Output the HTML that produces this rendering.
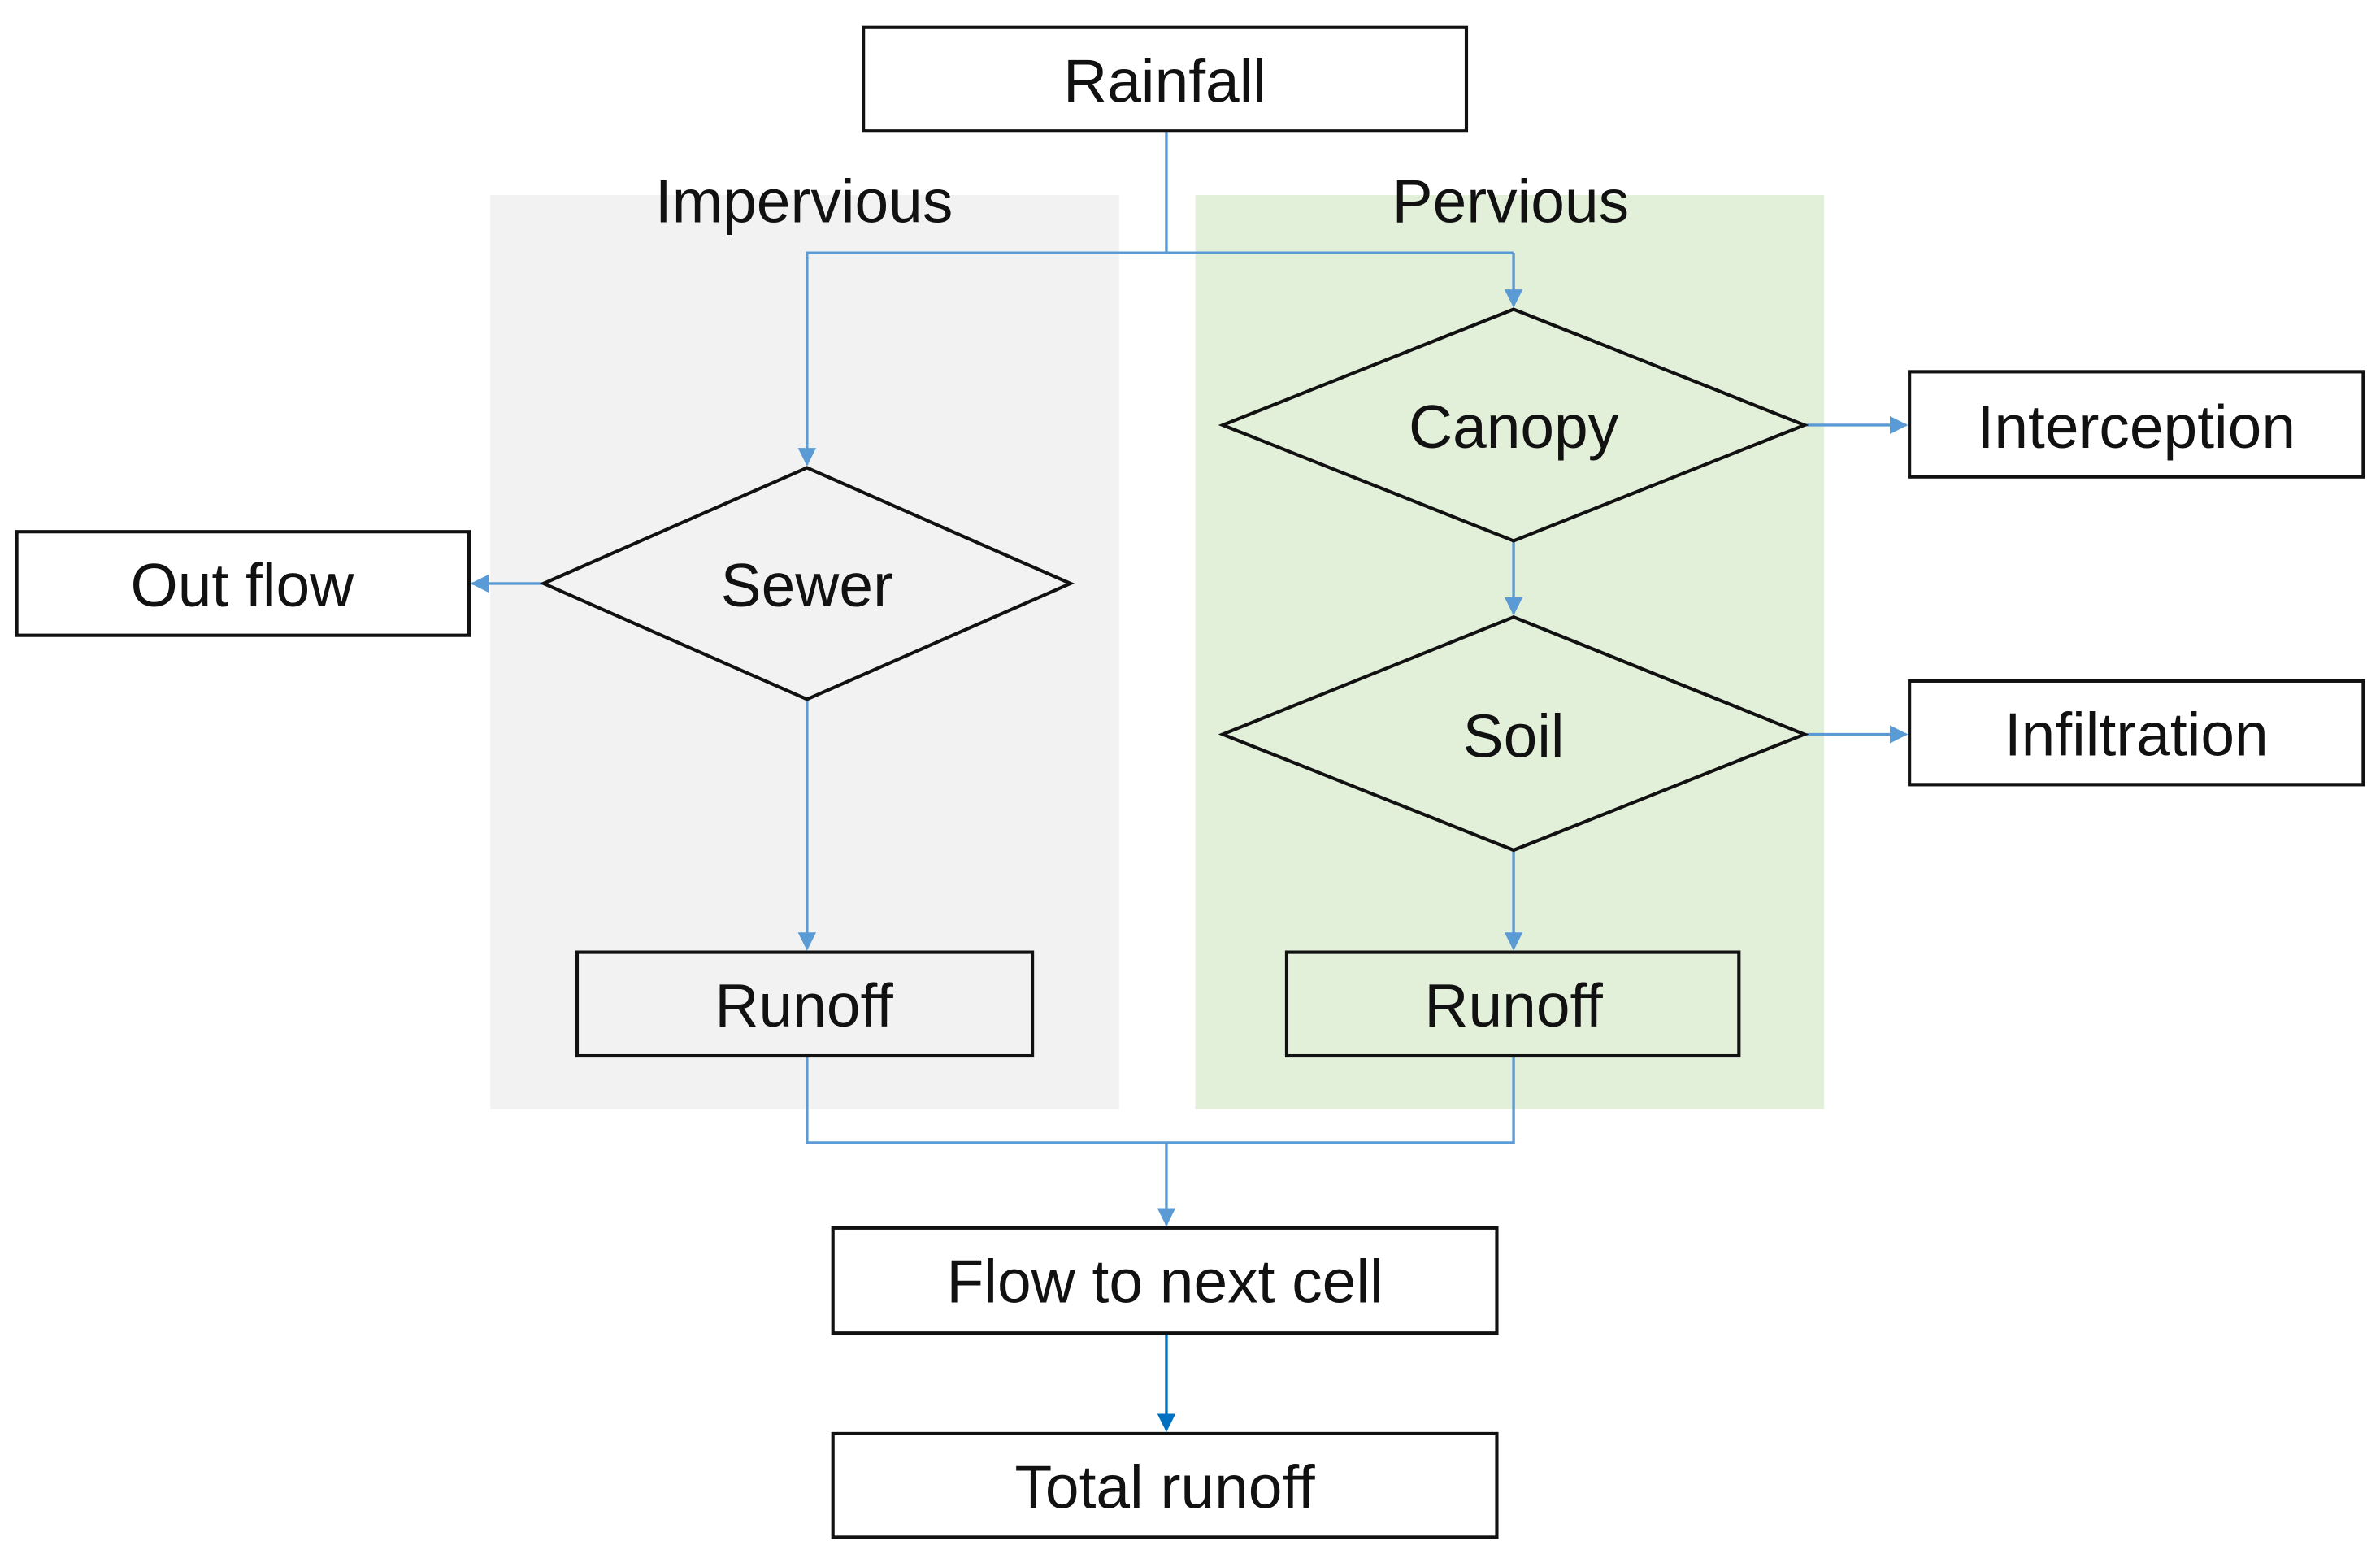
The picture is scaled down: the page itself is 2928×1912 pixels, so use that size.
<!DOCTYPE html>
<html><head><meta charset="utf-8"><style>
html,body{margin:0;padding:0;background:#fff;}
svg{display:block;}
text{font-family:"Liberation Sans",sans-serif;font-size:40px;fill:#111;text-anchor:middle;dominant-baseline:central;}
</style></head><body>
<svg width="2928" height="1912" viewBox="0 0 1563 1020" preserveAspectRatio="none" xmlns="http://www.w3.org/2000/svg">
<defs>
<marker id="a" markerWidth="12" markerHeight="12" refX="11" refY="6" orient="auto" markerUnits="userSpaceOnUse"><path d="M0,0 L12,6 L0,12 z" fill="#5b9bd5"/></marker>
<marker id="b" markerWidth="12" markerHeight="12" refX="11" refY="6" orient="auto" markerUnits="userSpaceOnUse"><path d="M0,0 L12,6 L0,12 z" fill="#0070c0"/></marker>
</defs>
<rect x="322" y="128" width="413" height="600" fill="#f2f2f2"/>
<rect x="785" y="128" width="413" height="600" fill="#e2efd9"/>
<text x="528" y="132">Impervious</text>
<text x="992" y="132">Pervious</text>
<g fill="none" stroke="#5b9bd5" stroke-width="1.8">
<path d="M766,86 V166"/>
<path d="M994,166 H530 V305" marker-end="url(#a)"/>
<path d="M994,166 V201" marker-end="url(#a)"/>
<path d="M1185,279 H1252" marker-end="url(#a)"/>
<path d="M357,383 H310" marker-end="url(#a)"/>
<path d="M994,355 V403" marker-end="url(#a)"/>
<path d="M1185,482 H1252" marker-end="url(#a)"/>
<path d="M530,459 V623" marker-end="url(#a)"/>
<path d="M994,558 V623" marker-end="url(#a)"/>
<path d="M530,693 V750 H994 V693"/>
<path d="M766,750 V804" marker-end="url(#a)"/>
</g>
<path d="M766,875 V939" stroke="#0070c0" stroke-width="1.8" fill="none" marker-end="url(#b)"/>
<g stroke="#111" stroke-width="2.2">
<rect x="567" y="18" width="396" height="68" fill="#fff"/>
<polygon points="994,203 1185,279 994,355 803,279" fill="#e2efd9"/>
<rect x="1254" y="244" width="298" height="69" fill="#fff"/>
<polygon points="530,307 703,383 530,459 357,383" fill="#f2f2f2"/>
<rect x="11" y="349" width="297" height="68" fill="#fff"/>
<polygon points="994,405 1185,482 994,558 803,482" fill="#e2efd9"/>
<rect x="1254" y="447" width="298" height="68" fill="#fff"/>
<rect x="379" y="625" width="299" height="68" fill="#f2f2f2"/>
<rect x="845" y="625" width="297" height="68" fill="#e2efd9"/>
<rect x="547" y="806" width="436" height="69" fill="#fff"/>
<rect x="547" y="941" width="436" height="68" fill="#fff"/>
</g>
<text x="765" y="53">Rainfall</text>
<text x="994" y="280">Canopy</text>
<text x="1403" y="280">Interception</text>
<text x="530" y="384">Sewer</text>
<text x="159" y="384">Out flow</text>
<text x="994" y="483">Soil</text>
<text x="1403" y="482">Infiltration</text>
<text x="528" y="660">Runoff</text>
<text x="994" y="660">Runoff</text>
<text x="765" y="841">Flow to next cell</text>
<text x="765" y="976">Total runoff</text>
</svg>
</body></html>
